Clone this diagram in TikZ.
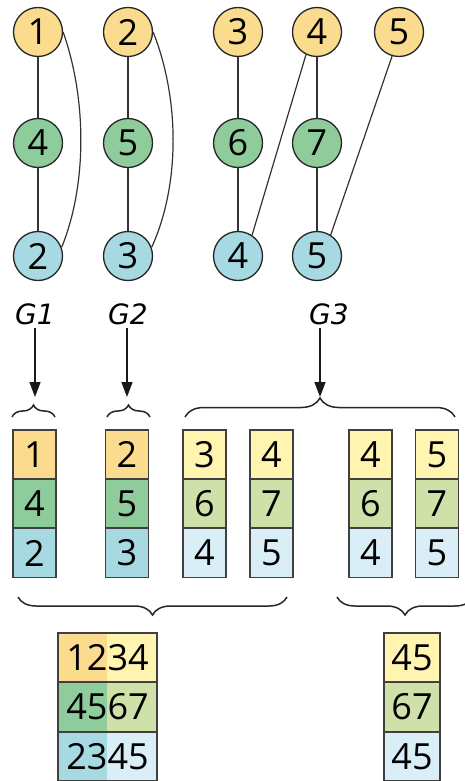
\documentclass[tikz,border=0pt]{standalone}
\usepackage{fontspec}
\setmainfont{Open Sans}
\newfontfamily\handfont{DejaVu Sans}
\usetikzlibrary{arrows.meta,decorations.pathreplacing}
\definecolor{rowA}{HTML}{FBDC8E}
\definecolor{rowB}{HTML}{8FCC9B}
\definecolor{rowC}{HTML}{A7D9E3}
\definecolor{rowAl}{HTML}{FFF5B1}
\definecolor{rowBl}{HTML}{D0E0A9}
\definecolor{rowCl}{HTML}{D9EEF7}

\begin{document}
\begin{tikzpicture}[x=1pt, y=-1pt,
  font=\fontsize{36}{40}\selectfont,
  vertex/.style={circle, draw=black!85, line width=1.3pt, minimum size=49pt, inner sep=0pt},
  link/.style={draw=black!80, line width=1.2pt},
  cell/.style={draw=black!75, line width=1.2pt, minimum width=43pt, minimum height=49pt, inner sep=0pt},
  half/.style={minimum width=49.5pt, minimum height=49pt, inner sep=0pt},
  wide/.style={draw=black!75, line width=1.2pt, minimum width=99pt, minimum height=49pt, inner sep=0pt},
  glabel/.style={font=\fontsize{28}{30}\selectfont\handfont\itshape},
  arrow/.style={-{Triangle[length=15pt, width=11pt]}, line width=1.4pt, draw=black!90},
  curly/.style={decorate, decoration={brace, amplitude=#1}, draw=black!85, line width=1.5pt}
]
  \useasboundingbox (0,0) rectangle (464,781);

  % the three graphs
  \node[vertex, fill=rowA] (top1) at (38,32) {1};
  \node[vertex, fill=rowA] (top2) at (128,32) {2};
  \node[vertex, fill=rowA] (top3) at (238,32) {3};
  \node[vertex, fill=rowA] (top4) at (317,32) {4};
  \node[vertex, fill=rowA] (top5) at (399,32) {5};
  \node[vertex, fill=rowB] (mid1) at (38,143) {4};
  \node[vertex, fill=rowB] (mid2) at (128,143) {5};
  \node[vertex, fill=rowB] (mid3) at (238,143) {6};
  \node[vertex, fill=rowB] (mid4) at (317,143) {7};
  \node[vertex, fill=rowC] (bot1) at (38,256) {2};
  \node[vertex, fill=rowC] (bot2) at (128,256) {3};
  \node[vertex, fill=rowC] (bot3) at (238,256) {4};
  \node[vertex, fill=rowC] (bot4) at (317,256) {5};

  \draw[link] (top1) -- (mid1) -- (bot1);
  \draw[link] (top2) -- (mid2) -- (bot2);
  \draw[link] (top3) -- (mid3) -- (bot3);
  \draw[link] (top4) -- (mid4) -- (bot4);
  \draw[link] (top1.east) .. controls (87,100) and (87,185) .. (bot1.20);
  \draw[link] (top2.east) .. controls (180,100) and (180,185) .. (bot2.20);
  \draw[link] (top4.244) -- (bot3.56);
  \draw[link] (top5.254) -- (bot4.57);

  \node[glabel] (g1) at (35,314) {G1};
  \node[glabel] (g2) at (128,314) {G2};
  \node[glabel] (g3) at (329,314) {G3};

  \coordinate (in1) at (35,397);
  \coordinate (in2) at (127,397);
  \coordinate (in3) at (320,397);
  \draw[arrow] (in1 |- g1.south) -- (in1);
  \draw[arrow] (in2 |- g2.south) -- (in2);
  \draw[arrow] (in3 |- g3.south) -- (in3);

  \draw[curly=12pt] (12,417) -- (55,417);
  \draw[curly=12pt] (107,417) -- (150,417);
  \draw[curly=19pt] (185,417) -- (455,417);

  % stacked columns
  \node[cell, fill=rowA] (c1top) at (34.5,454.5) {1};
  \node[cell, fill=rowB] (c1mid) at (34.5,503.5) {4};
  \node[cell, fill=rowC] (c1bot) at (34.5,553) {2};
  \node[cell, fill=rowA] (c2top) at (127,454.5) {2};
  \node[cell, fill=rowB] (c2mid) at (127,503.5) {5};
  \node[cell, fill=rowC] (c2bot) at (127,553) {3};
  \node[cell, fill=rowAl] (c3top) at (204.5,454.5) {3};
  \node[cell, fill=rowBl] (c3mid) at (204.5,503.5) {6};
  \node[cell, fill=rowCl] (c3bot) at (204.5,553) {4};
  \node[cell, fill=rowAl] (c4top) at (271.5,454.5) {4};
  \node[cell, fill=rowBl] (c4mid) at (271.5,503.5) {7};
  \node[cell, fill=rowCl] (c4bot) at (271.5,553) {5};
  \node[cell, fill=rowAl] (c5top) at (370.5,454.5) {4};
  \node[cell, fill=rowBl] (c5mid) at (370.5,503.5) {6};
  \node[cell, fill=rowCl] (c5bot) at (370.5,553) {4};
  \node[cell, fill=rowAl] (c6top) at (437,454.5) {5};
  \node[cell, fill=rowBl] (c6mid) at (437,503.5) {7};
  \node[cell, fill=rowCl] (c6bot) at (437,553) {5};

  \draw[curly=18pt] (287,597) -- (18,597);
  \draw[curly=18pt] (473,597) -- (337,597);

  % merged results
  \node[half, fill=rowA] (h1a) at (82.5,657.5) {};
  \node[half, fill=rowAl] (h1b) at (132,657.5) {};
  \node[half, fill=rowB] (h2a) at (82.5,707) {};
  \node[half, fill=rowBl] (h2b) at (132,707) {};
  \node[half, fill=rowC] (h3a) at (82.5,756.5) {};
  \node[half, fill=rowCl] (h3b) at (132,756.5) {};
  \node[wide] (m1top) at (107.5,657.5) {1234};
  \node[wide] (m1mid) at (107.5,707) {4567};
  \node[wide] (m1bot) at (107.5,756.5) {2345};

  \node[cell, minimum width=56pt, fill=rowAl] (m2top) at (412,657.5) {45};
  \node[cell, minimum width=56pt, fill=rowBl] (m2mid) at (412,707) {67};
  \node[cell, minimum width=56pt, fill=rowCl] (m2bot) at (412,756.5) {45};
\end{tikzpicture}
\end{document}
